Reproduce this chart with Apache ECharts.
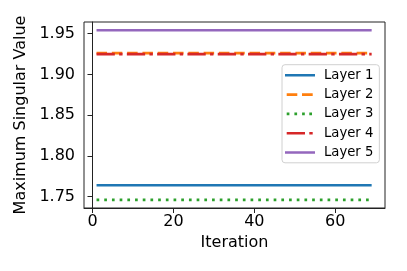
<!DOCTYPE html>
<html><head><meta charset="utf-8">
<script src="https://cdn.jsdelivr.net/npm/echarts@6/dist/echarts.min.js"></script>
<style>html,body{margin:0;padding:0;background:#fff}#c{width:407px;height:271px}</style>
</head><body><div id="c"></div>
<script>
const iterations = [1, 69];
const layerNames = ['Layer 1', 'Layer 2', 'Layer 3', 'Layer 4', 'Layer 5'];
const layer1 = [1.764, 1.764];
const layer2 = [1.9262, 1.9262];
const layer3 = [1.746, 1.746];
const layer4 = [1.925, 1.925];
const layer5 = [1.9542, 1.9542];
const xTicks = [0, 20, 40, 60];
const yTicks = [1.75, 1.80, 1.85, 1.90, 1.95];

const colors = ['#1f77b4', '#ff7f0e', '#2ca02c', '#d62728', '#9467bd'];
const dashes = ['solid', [10.5, 4.8], [2.7, 5], [18.3, 4.3, 3.4, 4.3], 'solid'];
const values = [layer1, layer2, layer3, layer4, layer5];
const FONT = 'DejaVu Sans';

// legend icon shapes (30 x 14 box, line 2.6 thick centred)
function iconPath(segs) {
  let p = 'path://M0,0L0.01,0L0,0.01ZM30,14L29.99,14L30,13.99Z';
  segs.forEach(s => { p += 'M' + s[0] + ',5.7L' + s[1] + ',5.7L' + s[1] + ',8.3L' + s[0] + ',8.3Z'; });
  return p;
}
const iconSegs = [
  [[0, 30]],
  [[1.7, 12.3], [17, 27.7]],
  [[1.7, 4.4], [9.4, 12.1], [17.1, 19.8], [24.3, 27]],
  [[1.7, 20], [24.3, 27.7]],
  [[0, 30]]
];

const series = values.map((v, i) => ({
  name: layerNames[i],
  type: 'line',
  data: iterations.map((x, j) => [x, v[j]]),
  showSymbol: false,
  symbol: 'none',
  z: 3 + i,
  lineStyle: { color: colors[i], width: 2.6, type: dashes[i], cap: 'butt' },
  itemStyle: { color: colors[i] },
  animation: false
}));

const chart = echarts.init(document.getElementById('c'), null, { renderer: 'canvas' });
chart.setOption({
  animation: false,
  grid: { left: 84, right: 22, top: 22, bottom: 63, show: true, borderColor: '#222', borderWidth: 1, backgroundColor: 'transparent' },
  xAxis: {
    type: 'value', min: -2.1, max: 72.3,
    name: 'Iteration', nameLocation: 'middle', nameGap: 27,
    nameTextStyle: { fontFamily: FONT, fontSize: 16, color: '#000' },
    axisLine: { show: true, lineStyle: { color: '#222', width: 1 } },
    axisTick: { show: true, length: 5, customValues: xTicks, lineStyle: { color: '#222' } },
    axisLabel: { customValues: xTicks, margin: 6, fontFamily: FONT, fontSize: 16, color: '#000' },
    splitLine: { show: false }
  },
  yAxis: {
    type: 'value', min: 1.736, max: 1.9644,
    name: 'Maximum Singular Value', nameLocation: 'middle', nameGap: 48,
    nameTextStyle: { fontFamily: FONT, fontSize: 16, color: '#000' },
    axisLine: { show: true, lineStyle: { color: '#222', width: 1 } },
    axisTick: { show: true, length: 5, customValues: yTicks, lineStyle: { color: '#222' } },
    axisLabel: { customValues: yTicks, margin: 9, fontFamily: FONT, fontSize: 16, color: '#000',
      formatter: v => v.toFixed(2) },
    splitLine: { show: false }
  },
  legend: {
    orient: 'vertical', left: 282, top: 64.7,
    data: layerNames.map((n, i) => ({ name: n, icon: iconPath(iconSegs[i]), itemStyle: { color: colors[i] } })),
    itemWidth: 30, itemHeight: 14, itemGap: 5.3,
    padding: [3.6, 6, 3.3, 3],
    borderColor: '#d0d0d0', borderWidth: 1, borderRadius: 3,
    backgroundColor: 'rgba(255,255,255,0.8)',
    textStyle: { fontFamily: FONT, fontSize: 13.2, color: '#000', padding: [0, 0, 0, 4] }
  },
  series: series
});
</script></body></html>
